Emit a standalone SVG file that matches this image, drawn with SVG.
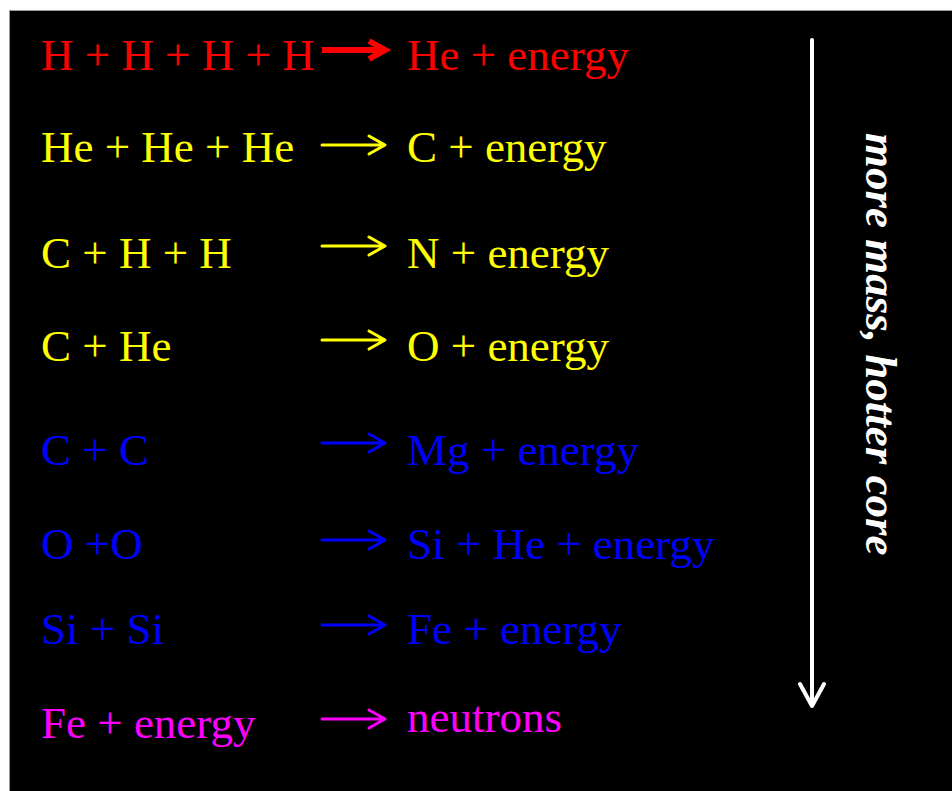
<svg xmlns="http://www.w3.org/2000/svg" width="952" height="791" viewBox="0 0 952 791">
<style>
  text { font-family: "Liberation Serif", "Times New Roman", serif; font-size: 45px; }
  .r { fill: #FF0000; }
  .y { fill: #FFFF00; }
  .b { fill: #0000FF; }
  .m { fill: #FF00FF; }
  .arr { fill: none; stroke-width: 3; stroke-linecap: round; stroke-linejoin: round; }
  .side { fill: #FFFFFF; font-weight: bold; font-style: italic; }
</style>
<rect x="0" y="0" width="952" height="791" fill="#FFFFFF"/>
<rect x="9.5" y="10.5" width="943" height="781" fill="#000000" stroke="#9a9a9a" stroke-width="1"/>

<g id="row1"><text class="r" x="41" y="70">H + H + H + H</text><text class="r" x="407" y="70">He + energy</text></g>
<g id="row2"><text class="y" x="41" y="162">He + He + He</text><text class="y" x="407" y="162">C + energy</text></g>
<g id="row3"><text class="y" x="41" y="268">C + H + H</text><text class="y" x="407" y="268">N + energy</text></g>
<g id="row4"><text class="y" x="41" y="361">C + He</text><text class="y" x="407" y="361">O + energy</text></g>
<g id="row5"><text class="b" x="41" y="465">C + C</text><text class="b" x="407" y="465">Mg + energy</text></g>
<g id="row6"><text class="b" x="41" y="559">O +O</text><text class="b" x="407" y="559">Si + He + energy</text></g>
<g id="row7"><text class="b" x="41" y="644">Si + Si</text><text class="b" x="407" y="644">Fe + energy</text></g>
<g id="row8"><text class="m" x="41" y="738">Fe + energy</text><text class="m" x="407" y="732">neutrons</text></g>

<g id="side-label"><text class="side" transform="translate(866,133) rotate(90)">more mass, hotter core</text></g>

<g id="connectors">
  <path d="M322 50 H383 M369 41 L385 50 L369 59" stroke="#FF0000" stroke-width="6" fill="none" stroke-linejoin="miter" stroke-linecap="butt"/>
  <path class="arr" stroke="#FFFF00" d="M322 145 H384 M369 136 L385 145 L369 154"/>
  <path class="arr" stroke="#FFFF00" d="M322 246 H384 M369 237 L385 246 L369 255"/>
  <path class="arr" stroke="#FFFF00" d="M322 340 H384 M369 331 L385 340 L369 349"/>
  <path class="arr" stroke="#0000FF" d="M322 443 H384 M369 434 L385 443 L369 452"/>
  <path class="arr" stroke="#0000FF" d="M322 540 H384 M369 531 L385 540 L369 549"/>
  <path class="arr" stroke="#0000FF" d="M322 625 H384 M369 616 L385 625 L369 634"/>
  <path class="arr" stroke="#FF00FF" d="M322 719 H384 M369 710 L385 719 L369 728"/>
  <path d="M812 40 V705 M800 684 L812 706 L824 684" stroke="#FFFFFF" stroke-width="4" fill="none" stroke-linecap="round" stroke-linejoin="round"/>
</g>
</svg>
